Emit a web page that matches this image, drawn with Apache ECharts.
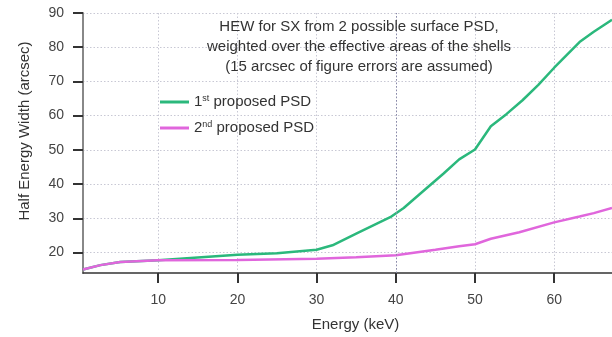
<!DOCTYPE html>
<html>
<head>
<meta charset="utf-8">
<script src="https://cdn.jsdelivr.net/npm/echarts@6/dist/echarts.min.js"></script>
<style>html,body{margin:0;padding:0;background:#fff}#c{width:612px;height:337px}</style>
</head>
<body>
<div id="c"></div>
<script>
// Energy (keV) / HEW (arcsec) samples
const psd1Energy = [0.5, 2.7, 5.2, 10, 15, 20, 25, 30, 32, 35, 39.3, 41, 43, 46, 48, 50, 52, 54, 56, 58, 60, 63.2, 65, 67.3];
const psd1Hew    = [15, 16.3, 17.2, 17.7, 18.5, 19.3, 19.8, 20.8, 22.1, 25.5, 30.3, 33, 37, 43, 47.2, 50.1, 56.9, 60.5, 64.5, 69, 74, 81.5, 84.5, 88];
const psd2Energy = [0.5, 2.7, 5.2, 10, 20, 30, 35, 40, 45, 48, 50, 52, 55.6, 60, 63.2, 65, 67.3];
const psd2Hew    = [15, 16.3, 17.2, 17.7, 17.8, 18.2, 18.6, 19.2, 20.8, 21.8, 22.4, 24, 25.9, 28.8, 30.5, 31.5, 33];
const seriesNames = ['1st proposed PSD', '2nd proposed PSD'];
const xTicks = [10, 20, 30, 40, 50, 60];
const yTicks = [20, 30, 40, 50, 60, 70, 80, 90];
const titleLines = ['HEW for SX from 2 possible surface PSD,', 'weighted over the effective areas of the shells', '(15 arcsec of figure errors are assumed)'];

const zip = (a, b) => a.map((v, i) => [v, b[i]]);
const font = 'Liberation Sans, Arial, sans-serif';
const chart = echarts.init(document.getElementById('c'), null, {renderer: 'canvas'});
chart.setOption({
  animation: false,
  backgroundColor: '#fff',
  textStyle: {fontFamily: font},
  grid: {left: 83, top: 13, right: 0, bottom: 61, containLabel: false},
  title: {
    text: titleLines.join('\n'),
    left: 354, top: 12, textAlign: 'center',
    textStyle: {fontFamily: font, fontSize: 15, fontWeight: 'normal', color: '#333', lineHeight: 20}
  },
  legend: {
    orient: 'vertical', left: 155, top: 89, itemWidth: 29, itemHeight: 3, itemGap: 10, icon: 'rect',
    data: seriesNames,
    formatter: n => n.startsWith('1st') ? '1{sup|st} proposed PSD' : '2{sup|nd} proposed PSD',
    textStyle: {fontFamily: font, fontSize: 15, color: '#333', lineHeight: 16,
      rich: {sup: {fontSize: 9, fontFamily: font, color: '#333', verticalAlign: 'top', lineHeight: 10, padding: [0, 0, 6, 0]}}}
  },
  xAxis: {
    type: 'value', min: 0.5, max: 67.3,
    name: 'Energy (keV)', nameLocation: 'middle', nameGap: 44,
    nameTextStyle: {fontFamily: font, fontSize: 15, color: '#333', padding: [0, 0, 0, 16]},
    axisLine: {show: true, onZero: false, lineStyle: {color: '#333', width: 1.5}},
    axisTick: {show: true, length: 10, customValues: xTicks, lineStyle: {color: '#333', width: 2}},
    axisLabel: {customValues: xTicks, margin: 20, fontFamily: font, fontSize: 14, color: '#444'},
    splitLine: {show: true, lineStyle: {color: '#c8c8d4', type: [1.5, 2], width: 1}}
  },
  yAxis: {
    type: 'value', min: 14, max: 90,
    name: 'Half Energy Width (arcsec)', nameLocation: 'middle', nameGap: 51,
    nameTextStyle: {fontFamily: font, fontSize: 15, color: '#333', padding: [0, 0, 0, 24]},
    axisLine: {show: true, onZero: false, lineStyle: {color: '#888', width: 2}},
    axisTick: {show: true, length: 10, customValues: yTicks, lineStyle: {color: '#333', width: 2}},
    axisLabel: {customValues: yTicks, margin: 19, fontFamily: font, fontSize: 14, color: '#444'},
    splitLine: {show: true, lineStyle: {color: '#c8c8d4', type: [1.5, 2], width: 1}}
  },
  series: [
    {name: seriesNames[0], type: 'line', data: zip(psd1Energy, psd1Hew), showSymbol: false, symbol: 'none',
     lineStyle: {color: '#2bb87c', width: 2.5}, itemStyle: {color: '#2bb87c'},
     markLine: {silent: true, symbol: 'none', label: {show: false},
       lineStyle: {color: '#8a8aaa', type: [1.5, 2], width: 1}, data: [{xAxis: 40}]}},
    {name: seriesNames[1], type: 'line', data: zip(psd2Energy, psd2Hew), showSymbol: false, symbol: 'none',
     lineStyle: {color: '#e066dc', width: 2.5}, itemStyle: {color: '#e066dc'}}
  ]
});
</script>
</body>
</html>
